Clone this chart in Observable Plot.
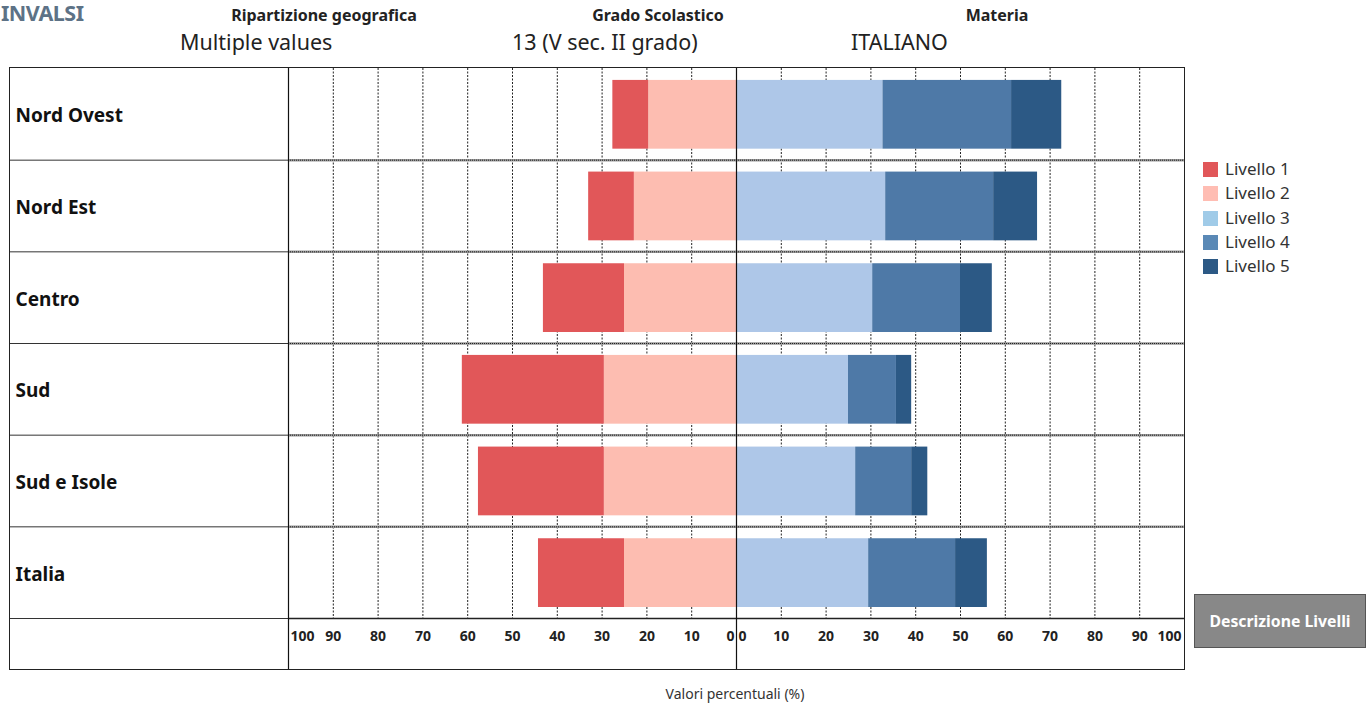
<!DOCTYPE html>
<html>
<head>
<meta charset="utf-8">
<script src="https://cdn.jsdelivr.net/npm/d3@7"></script>
<script src="https://cdn.jsdelivr.net/npm/@observablehq/plot@0.6"></script>
<style>
  html, body { margin: 0; padding: 0; background: #fff; }
  body { width: 1367px; height: 708px; position: relative; overflow: hidden; font-family: "Noto Sans", sans-serif; color: #222; }
  .abs { position: absolute; white-space: nowrap; }
  .logo { left: 1px; top: 1px; line-height: 24px; font-size: 21.5px; font-weight: bold; color: #5d7286; letter-spacing: -0.5px; }
  .hdr { font-size: 16px; font-weight: bold; top: 4px; transform: translateX(-50%); }
  .val { font-size: 21.5px; top: 27px; color: #222; }
  #chart { position: absolute; left: 10px; top: 68px; }
  #box { position: absolute; left: 9px; top: 67px; width: 1176px; height: 603px; box-sizing: border-box; border: 1.5px solid #222; pointer-events: none; }
  .leg { position: absolute; left: 1203px; font-size: 17px; color: #333; }
  .leg span.sw { position: absolute; left: 0; width: 15px; height: 15px; }
  .leg span.tx { position: absolute; left: 22px; top: -5px; white-space: nowrap; }
  #btn { position: absolute; left: 1194px; top: 594px; width: 172px; height: 54px; box-sizing: border-box; background: #888; border: 1px solid #555; color: #fff; font-weight: bold; font-size: 15.8px; display: flex; align-items: center; justify-content: center; }
  #cap { position: absolute; top: 684px; left: 735px; transform: translateX(-50%); font-size: 14px; color: #333; white-space: nowrap; }
</style>
</head>
<body>
<div class="abs logo">INVALSI</div>
<div class="abs hdr" style="left:324px">Ripartizione geografica</div>
<div class="abs hdr" style="left:658px">Grado Scolastico</div>
<div class="abs hdr" style="left:997px">Materia</div>
<div class="abs val" style="left:180px">Multiple values</div>
<div class="abs val" style="left:512px">13 (V sec. II grado)</div>
<div class="abs val" style="left:851px">ITALIANO</div>
<div id="chart"></div>
<div id="box"></div>
<div id="legend"></div>
<div id="btn">Descrizione Livelli</div>
<div id="cap">Valori percentuali (%)</div>
<script>
// ---- data ----
const regions = ["Nord Ovest", "Nord Est", "Centro", "Sud", "Sud e Isole", "Italia"];
const levels = ["Livello 1", "Livello 2", "Livello 3", "Livello 4", "Livello 5"];
const livello1 = [8.0, 10.2, 18.1, 31.7, 28.1, 19.2];
const livello2 = [19.6, 22.8, 25.0, 29.5, 29.5, 25.0];
const livello3 = [32.7, 33.3, 30.4, 25.0, 26.6, 29.5];
const livello4 = [28.7, 24.1, 19.6, 10.7, 12.5, 19.4];
const livello5 = [11.2, 9.8, 7.1, 3.4, 3.6, 7.1];
const barColors = ["#e15759", "#fdbdb1", "#aec7e8", "#4e79a7", "#2c5985"];
const legendColors = ["#e15759", "#ffbdb3", "#a0cbe8", "#5a89b6", "#2c5985"];
const leftTicks = [100, 90, 80, 70, 60, 50, 40, 30, 20, 10, 0];
const rightTicks = [0, 10, 20, 30, 40, 50, 60, 70, 80, 90, 100];
const gridValues = [-90, -80, -70, -60, -50, -40, -30, -20, -10, 10, 20, 30, 40, 50, 60, 70, 80, 90];

// ---- build segments ----
const segs = [];
regions.forEach((r, i) => {
  const a = livello1[i], b = livello2[i], c = livello3[i], d = livello4[i], e = livello5[i];
  segs.push({row: i, level: levels[1], x1: 0, x2: -b});
  segs.push({row: i, level: levels[0], x1: -b, x2: -(a + b)});
  segs.push({row: i, level: levels[2], x1: 0, x2: c});
  segs.push({row: i, level: levels[3], x1: c, x2: c + d});
  segs.push({row: i, level: levels[4], x1: c + d, x2: c + d + e});
});
const rows = regions.map((r, i) => ({row: i, name: r}));
const seps = d3.range(1, regions.length + 1);
const leftT = leftTicks.map(t => ({x: -t, label: String(t)}));
const rightT = rightTicks.map(t => ({x: t, label: String(t)}));
const midTicks = [...leftT.slice(1, -1), ...rightT.slice(1, -1)];
const tickStyle = {text: "label", frameAnchor: "bottom", lineAnchor: "middle", dy: 18, fontSize: 14, fontWeight: "bold", fill: "#222"};

const plot = Plot.plot({
  width: 1174,
  height: 601,
  marginLeft: 278,
  marginRight: 0,
  marginTop: 0,
  marginBottom: 51,
  style: {fontFamily: "Noto Sans, sans-serif", background: "transparent", overflow: "visible"},
  x: {domain: [-100, 100], axis: null},
  y: {domain: [0, regions.length], range: [0, 550], axis: null},
  color: {domain: levels, range: barColors},
  marks: [
    // dotted gridlines
    Plot.ruleX(gridValues, {x: d => d, stroke: "#222", strokeWidth: 1, strokeDasharray: "2,1.5"}),
    // row separators in plot area
    Plot.ruleY(seps.slice(0, -1), {y: d => d, x1: -100, x2: 100, stroke: "#999", strokeWidth: 2.5}),
    Plot.ruleY(seps.slice(0, -1), {y: d => d, x1: -100, x2: 100, stroke: "#222", strokeWidth: 1, strokeDasharray: "1,1"}),
    // row separators in label column
    Plot.ruleY(seps, {y: d => d, x1: -100, x2: -100, insetLeft: -278, stroke: "#333", strokeWidth: 1}),
    // bars
    Plot.rectX(segs, {x1: "x1", x2: "x2", y1: d => d.row + 0.13, y2: d => d.row + 0.88, fill: "level"}),
    // bottom line of plot area
    Plot.ruleY([regions.length], {y: d => d, x1: -100, x2: 100, stroke: "#222", strokeWidth: 1.5}),
    // label column divider and center line
    Plot.ruleX([-100, 0], {x: d => d, stroke: "#111", strokeWidth: 1.2, insetBottom: -51}),
    // region labels
    Plot.text(rows, {x: -100, y: d => d.row + 0.5, text: "name", dx: -273, dy: 2, textAnchor: "start", fontSize: 19, fontWeight: "bold", fill: "#111"}),
    // tick labels
    Plot.text(midTicks, {x: "x", ...tickStyle}),
    Plot.text([leftT[0]], {x: "x", ...tickStyle, textAnchor: "start", dx: 2}),
    Plot.text([leftT[leftT.length - 1]], {x: "x", ...tickStyle, textAnchor: "end", dx: -2}),
    Plot.text([rightT[0]], {x: "x", ...tickStyle, textAnchor: "start", dx: 2}),
    Plot.text([rightT[rightT.length - 1]], {x: "x", ...tickStyle, textAnchor: "end", dx: -3})
  ]
});
document.getElementById("chart").appendChild(plot);

// legend
const leg = document.getElementById("legend");
levels.forEach((l, i) => {
  const row = document.createElement("div");
  row.className = "leg";
  row.style.top = (162 + i * 24.3) + "px";
  row.innerHTML = `<span class="sw" style="background:${legendColors[i]}"></span><span class="tx">${l}</span>`;
  leg.appendChild(row);
});
</script>
</body>
</html>
